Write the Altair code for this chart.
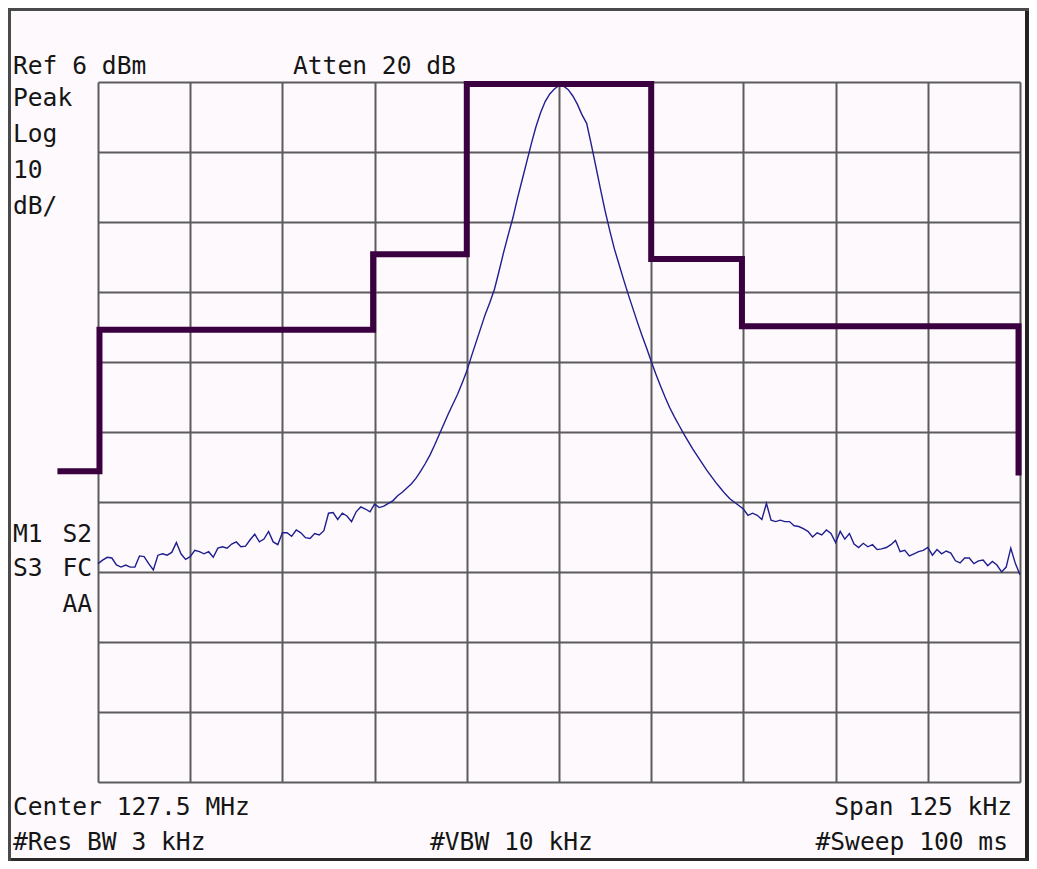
import altair as alt
import pandas as pd

# ---- data ----
# sweep points: 201 points, 0.625 kHz apart, offset from 127.5 MHz centre
freq_khz = [round(-62.5 + 0.625 * i, 4) for i in range(201)]

trace_dbm = [
    -62.8, -62.3, -61.9, -62.0, -63.0, -63.3, -63.0, -63.3, -63.3, -61.7,
    -61.8, -62.8, -63.7, -61.6, -61.4, -61.6, -61.2, -59.8, -61.4, -62.2,
    -61.8, -60.9, -61.1, -61.4, -61.1, -61.9, -60.6, -60.4, -60.6, -60.0,
    -59.7, -60.4, -60.3, -59.4, -58.6, -59.7, -59.3, -58.2, -59.7, -60.1,
    -58.4, -58.4, -58.9, -58.0, -58.4, -59.1, -59.2, -58.5, -58.7, -58.1,
    -55.6, -55.5, -56.5, -55.6, -56.0, -56.8, -55.4, -54.7, -55.0, -55.4,
    -54.3, -54.8, -54.6, -54.2, -53.8, -53.1, -52.6, -52.0, -51.4, -50.6,
    -49.6, -48.5, -47.3, -45.9, -44.4, -42.9, -41.4, -40.0, -38.6, -37.0,
    -35.3, -33.2, -31.2, -29.2, -27.2, -25.5, -23.6, -21.0, -18.3, -15.8,
    -13.4, -10.6, -8.0, -5.4, -2.8, -0.4, 1.6, 3.2, 4.3, 5.0,
    5.5, 5.4, 4.9, 4.0, 2.8, 1.3, 0.1, -2.9, -6.1, -9.3,
    -12.4, -15.2, -17.8, -20.0, -22.2, -24.3, -26.3, -28.3, -30.2, -32.0,
    -33.9, -35.7, -37.4, -39.0, -40.5, -41.8, -43.0, -44.2, -45.3, -46.4,
    -47.4, -48.4, -49.4, -50.3, -51.2, -52.0, -52.8, -53.5, -54.0, -54.5,
    -55.0, -55.9, -55.6, -55.9, -56.5, -54.2, -56.6, -56.8, -56.6, -56.8,
    -56.8, -57.4, -57.5, -57.8, -58.2, -59.0, -58.4, -58.7, -58.0, -58.5,
    -59.8, -58.2, -59.3, -58.5, -60.0, -60.5, -59.9, -60.4, -60.1, -60.8,
    -60.7, -60.5, -60.1, -59.5, -61.1, -60.9, -61.7, -61.4, -61.1, -60.9,
    -60.5, -61.6, -60.8, -61.4, -61.0, -61.3, -62.4, -62.7, -62.0, -62.0,
    -62.8, -62.4, -62.3, -63.1, -62.5, -63.0, -64.0, -63.3, -60.6, -62.8,
    -64.4,
]

mask_khz = [-68.0, -62.3, -62.3, -25.2, -25.2, -12.5, -12.5, 12.5, 12.5, 24.8, 24.8, 62.3, 62.3]
mask_dbm = [-49.6, -49.6, -29.4, -29.4, -18.6, -18.6, 5.7, 5.7, -19.3, -19.3, -28.9, -28.9, -50.2]

x_grid_khz = [-62.5, -50.0, -37.5, -25.0, -12.5, 0.0, 12.5, 25.0, 37.5, 50.0, 62.5]
y_grid_dbm = [6, -4, -14, -24, -34, -44, -54, -64, -74, -84, -94]

header_texts = ["Ref 6 dBm", "Atten 20 dB"]
side_texts = ["Peak", "Log", "10", "dB/"]
marker_texts = ["M1", "S2", "S3", "FC", "AA"]
footer_texts = ["Center 127.5 MHz", "Span 125 kHz", "#Res BW 3 kHz", "#VBW 10 kHz", "#Sweep 100 ms"]

trace_df = pd.DataFrame({"f": freq_khz, "dbm": trace_dbm})
mask_df = pd.DataFrame({"f": mask_khz, "dbm": mask_dbm, "idx": list(range(len(mask_khz)))})

# ---- styling ----
FONT = "DejaVu Sans Mono"
FS = 24.6
TXT = "#151515"
GRID = "#5c5c5c"

xscale = alt.Scale(domain=[-62.5, 62.5], nice=False, zero=False)
yscale = alt.Scale(domain=[-94, 6], nice=False, zero=False)
xaxis = alt.Axis(values=x_grid_khz, grid=True, labels=False, ticks=False, domain=False,
                 title=None, gridColor=GRID, gridWidth=2, gridOpacity=1)
yaxis = alt.Axis(values=y_grid_dbm, grid=True, labels=False, ticks=False, domain=False,
                 title=None, gridColor=GRID, gridWidth=2, gridOpacity=1)

trace = alt.Chart(trace_df).mark_line(color="#1f1f8f", strokeWidth=1.4).encode(
    x=alt.X("f:Q", scale=xscale, axis=xaxis),
    y=alt.Y("dbm:Q", scale=yscale, axis=yaxis),
)

mask = alt.Chart(mask_df).mark_line(color="#3b0040", strokeWidth=6, strokeCap="butt",
                                    strokeJoin="miter").encode(
    x=alt.X("f:Q", scale=xscale, axis=xaxis),
    y=alt.Y("dbm:Q", scale=yscale, axis=yaxis),
    order=alt.Order("idx:Q"),
)


def label(txt, x, y, align="left"):
    return alt.Chart(alt.Data(values=[{}])).mark_text(
        text=txt, align=align, baseline="alphabetic", font=FONT, fontSize=FS, color=TXT
    ).encode(x=alt.value(x), y=alt.value(y))


def box(x1, x2, y1, y2, color):
    return alt.Chart(alt.Data(values=[{}])).mark_rect(color=color).encode(
        x=alt.value(x1), x2=alt.value(x2), y=alt.value(y1), y2=alt.value(y2)
    )


texts = [
    label(header_texts[0], -85, -8),
    label(header_texts[1], 195, -8),
    label(side_texts[0], -85, 24),
    label(side_texts[1], -85, 60),
    label(side_texts[2], -85, 96),
    label(side_texts[3], -85, 132),
    label(marker_texts[0], -85, 460),
    label(marker_texts[1], -6, 460, "right"),
    label(marker_texts[2], -85, 494),
    label(marker_texts[3], -6, 494, "right"),
    label(marker_texts[4], -6, 530, "right"),
    label(footer_texts[0], -85, 733),
    label(footer_texts[1], 914, 733, "right"),
    label(footer_texts[2], -85, 768),
    label(footer_texts[3], 332, 768),
    label(footer_texts[4], 910, 768, "right"),
]

borders = [
    box(927, 935, -74, 780, "#222222"),   # right dark edge
    box(-90, 935, 776, 780, "#2a2a2a"),   # bottom edge
    box(-90, -87, -74, 780, "#4a4a4a"),   # left edge
    box(-90, 935, -74, -71, "#4a4a4a"),   # top edge
]

chart = alt.layer(trace, mask, *texts, *borders).properties(
    width=922,
    height=700,
    padding={"left": 90, "top": 74, "right": 9, "bottom": 79},
    autosize=alt.AutoSizeParams(type="none"),
).configure_view(
    stroke="#5a5a5a", strokeWidth=3
).configure(
    background="#fdf9fc"
)

chart.save("out.html", embed_options={"renderer": "svg", "actions": False})
